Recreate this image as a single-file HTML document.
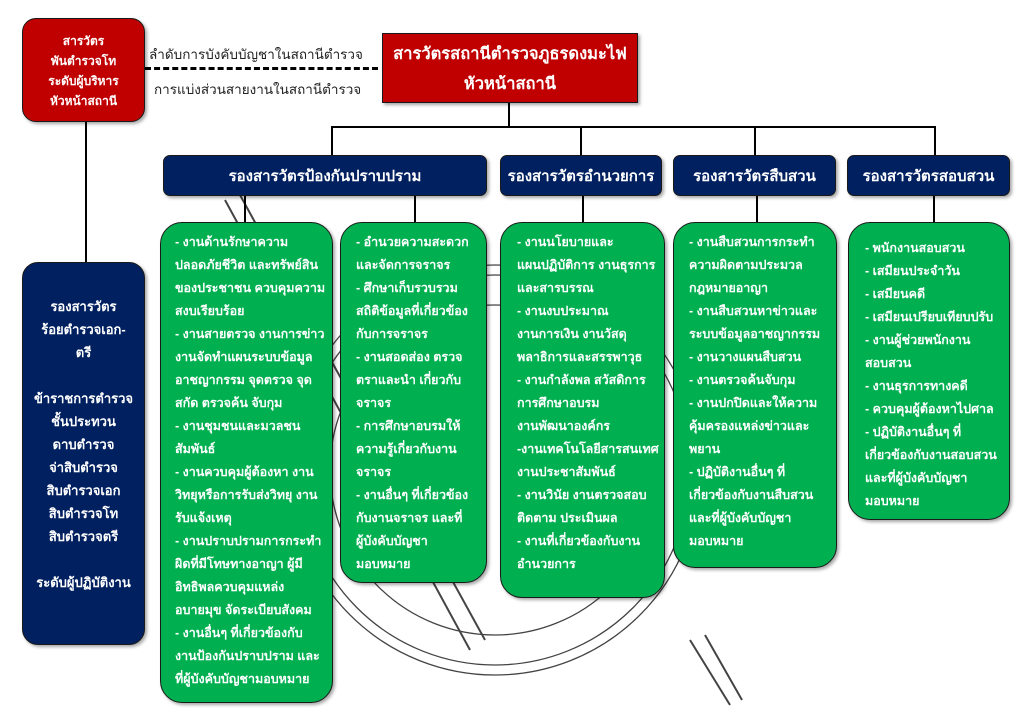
<!DOCTYPE html>
<html><head><meta charset="utf-8">
<style>
*{margin:0;padding:0;box-sizing:border-box}
body{width:1024px;height:710px;background:#fff;position:relative;overflow:hidden;font-family:"Liberation Sans","Noto Sans CJK SC",sans-serif}
.a{position:absolute}
.box{position:absolute;border:1.5px solid #1a1a1a;box-shadow:2px 2px 3px rgba(0,0,0,.35);color:#fff;font-weight:bold}
.red{background:#C00000}
.navy{background:#002060}
.green{background:#00B050;border-radius:22px;font-size:12.5px;line-height:23px;padding:8px 0 0 14px;white-space:nowrap}
.ln{position:absolute;background:#000}
.hd{border-radius:7px;font-size:15px;display:flex;align-items:center;justify-content:center;white-space:nowrap}
</style></head><body>
<svg class="a" style="left:0;top:0" width="1024" height="710">
<g fill="none" stroke="#444" stroke-width="1.3">
<circle cx="495" cy="470" r="205"/>
<circle cx="495" cy="470" r="195"/>
<circle cx="495" cy="470" r="165"/>
<path d="M225 200 L470 650 M240 195 L485 640" stroke-width="2"/>
<path d="M690 640 L730 705 M705 635 L742 700" stroke-width="2"/>
</g>
</svg>
<!-- connectors -->
<div class="ln" style="left:85px;top:122px;width:2px;height:140px"></div>
<div class="ln" style="left:508px;top:103px;width:2px;height:25px"></div>
<div class="ln" style="left:331px;top:126px;width:605px;height:2px"></div>
<div class="ln" style="left:331px;top:126px;width:2px;height:29px"></div>
<div class="ln" style="left:580px;top:126px;width:2px;height:29px"></div>
<div class="ln" style="left:754px;top:126px;width:2px;height:29px"></div>
<div class="ln" style="left:934px;top:126px;width:2px;height:29px"></div>
<div class="ln" style="left:244px;top:196px;width:2px;height:26px"></div>
<div class="ln" style="left:414px;top:196px;width:2px;height:26px"></div>
<div class="ln" style="left:582px;top:196px;width:2px;height:26px"></div>
<div class="ln" style="left:756px;top:196px;width:2px;height:26px"></div>
<div class="ln" style="left:933px;top:196px;width:2px;height:26px"></div>
<div class="a" style="left:145px;top:67px;width:233px;border-top:3px dashed #000"></div>
<div class="a" style="left:149px;top:43px;font-size:13.5px;color:#222;white-space:nowrap">ลำดับการบังคับบัญชาในสถานีตำรวจ</div>
<div class="a" style="left:154px;top:78px;font-size:13.5px;color:#222;white-space:nowrap">การแบ่งส่วนสายงานในสถานีตำรวจ</div>

<div class="box red" style="left:22px;top:18px;width:123px;height:104px;border-radius:14px;font-size:12px;line-height:20px;text-align:center;padding-top:12px">สารวัตร<br>พันตำรวจโท<br>ระดับผู้บริหาร<br>หัวหน้าสถานี</div>
<div class="box red" style="left:382px;top:33px;width:256px;height:70px;font-size:16.5px;line-height:30px;text-align:center;padding-top:5px;white-space:nowrap">สารวัตรสถานีตำรวจภูธรดงมะไฟ<br>หัวหน้าสถานี</div>

<div class="box navy" style="left:22px;top:262px;width:123px;height:383px;border-radius:16px;font-size:13px;line-height:23px;text-align:center;padding-top:32px;white-space:nowrap">รองสารวัตร<br>ร้อยตำรวจเอก-<br>ตรี<br><br>ข้าราชการตำรวจ<br>ชั้นประทวน<br>ดาบตำรวจ<br>จ่าสิบตำรวจ<br>สิบตำรวจเอก<br>สิบตำรวจโท<br>สิบตำรวจตรี<br><br>ระดับผู้ปฏิบัติงาน</div>

<div class="box navy hd" style="left:163px;top:155px;width:324px;height:41px">รองสารวัตรป้องกันปราบปราม</div>
<div class="box navy hd" style="left:500px;top:155px;width:162px;height:41px">รองสารวัตรอำนวยการ</div>
<div class="box navy hd" style="left:673px;top:155px;width:163px;height:41px">รองสารวัตรสืบสวน</div>
<div class="box navy hd" style="left:847px;top:155px;width:163px;height:41px">รองสารวัตรสอบสวน</div>

<div class="box green" style="left:160px;top:222px;width:173px;height:481px">- งานด้านรักษาความ<br>ปลอดภัยชีวิต และทรัพย์สิน<br>ของประชาชน ควบคุมความ<br>สงบเรียบร้อย<br>- งานสายตรวจ งานการข่าว<br>งานจัดทำแผนระบบข้อมูล<br>อาชญากรรม จุดตรวจ จุด<br>สกัด ตรวจค้น จับกุม<br>- งานชุมชนและมวลชน<br>สัมพันธ์<br>- งานควบคุมผู้ต้องหา งาน<br>วิทยุหรือการรับส่งวิทยุ งาน<br>รับแจ้งเหตุ<br>- งานปราบปรามการกระทำ<br>ผิดที่มีโทษทางอาญา ผู้มี<br>อิทธิพลควบคุมแหล่ง<br>อบายมุข จัดระเบียบสังคม<br>- งานอื่นๆ ที่เกี่ยวข้องกับ<br>งานป้องกันปราบปราม และ<br>ที่ผู้บังคับบัญชามอบหมาย</div>
<div class="box green" style="left:340px;top:222px;width:147px;height:361px;padding-left:15px">- อำนวยความสะดวก<br>และจัดการจราจร<br>- ศึกษาเก็บรวบรวม<br>สถิติข้อมูลที่เกี่ยวข้อง<br>กับการจราจร<br>- งานสอดส่อง ตรวจ<br>ตราและนำ เกี่ยวกับ<br>จราจร<br>- การศึกษาอบรมให้<br>ความรู้เกี่ยวกับงาน<br>จราจร<br>- งานอื่นๆ ที่เกี่ยวข้อง<br>กับงานจราจร และที่<br>ผู้บังคับบัญชา<br>มอบหมาย</div>
<div class="box green" style="left:500px;top:222px;width:165px;height:376px;padding-left:16px">- งานนโยบายและ<br>แผนปฏิบัติการ งานธุรการ<br>และสารบรรณ<br>- งานงบประมาณ<br>งานการเงิน งานวัสดุ<br>พลาธิการและสรรพาวุธ<br>- งานกำลังพล สวัสดิการ<br>การศึกษาอบรม<br>งานพัฒนาองค์กร<br>-งานเทคโนโลยีสารสนเทศ<br>งานประชาสัมพันธ์<br>- งานวินัย งานตรวจสอบ<br>ติดตาม ประเมินผล<br>- งานที่เกี่ยวข้องกับงาน<br>อำนวยการ</div>
<div class="box green" style="left:673px;top:222px;width:164px;height:346px;padding-left:15px">- งานสืบสวนการกระทำ<br>ความผิดตามประมวล<br>กฎหมายอาญา<br>- งานสืบสวนหาข่าวและ<br>ระบบข้อมูลอาชญากรรม<br>- งานวางแผนสืบสวน<br>- งานตรวจค้นจับกุม<br>- งานปกปิดและให้ความ<br>คุ้มครองแหล่งข่าวและ<br>พยาน<br>- ปฏิบัติงานอื่นๆ ที่<br>เกี่ยวข้องกับงานสืบสวน<br>และที่ผู้บังคับบัญชา<br>มอบหมาย</div>
<div class="box green" style="left:848px;top:222px;width:162px;height:298px;padding-left:16px;padding-top:14px">- พนักงานสอบสวน<br>- เสมียนประจำวัน<br>- เสมียนคดี<br>- เสมียนเปรียบเทียบปรับ<br>- งานผู้ช่วยพนักงาน<br>สอบสวน<br>- งานธุรการทางคดี<br>- ควบคุมผู้ต้องหาไปศาล<br>- ปฏิบัติงานอื่นๆ ที่<br>เกี่ยวข้องกับงานสอบสวน<br>และที่ผู้บังคับบัญชา<br>มอบหมาย</div>
</body></html>
